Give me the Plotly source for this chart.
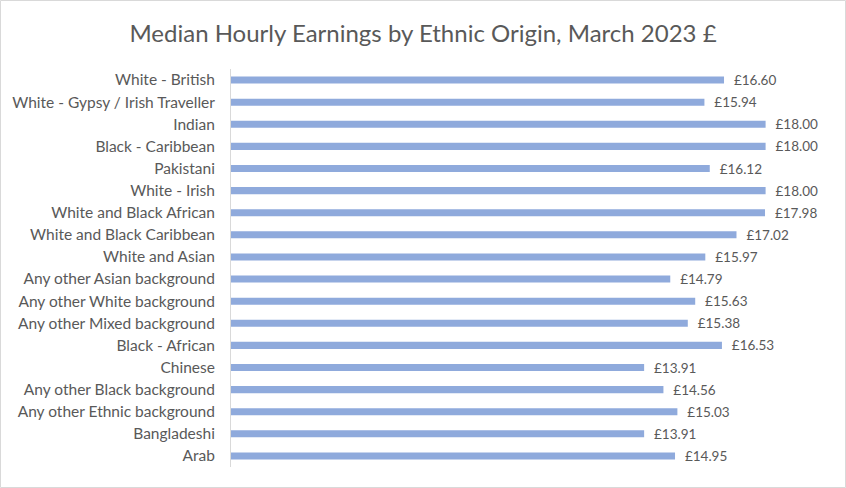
import plotly.graph_objects as go

categories = [
    "White - British", "White - Gypsy / Irish Traveller", "Indian", "Black - Caribbean",
    "Pakistani", "White - Irish", "White and Black African", "White and Black Caribbean",
    "White and Asian", "Any other Asian background", "Any other White background",
    "Any other Mixed background", "Black - African", "Chinese", "Any other Black background",
    "Any other Ethnic background", "Bangladeshi", "Arab",
]
earnings = [16.60, 15.94, 18.00, 18.00, 16.12, 18.00, 17.98, 17.02, 15.97, 14.79,
            15.63, 15.38, 16.53, 13.91, 14.56, 15.03, 13.91, 14.95]
labels = ["£%.2f" % v for v in earnings]

FONT = "Lato"
GREY = "#595959"

fig = go.Figure(go.Bar(
    x=earnings, y=categories, orientation="h",
    marker=dict(color="#8FAADC", line=dict(width=0)),
    width=0.32,
    text=["  " + t for t in labels], textposition="outside",
    textfont=dict(family=FONT, size=13.5, color=GREY),
    cliponaxis=False, constraintext="none",
    hoverinfo="skip",
))

fig.update_layout(
    width=846, height=488,
    margin=dict(l=231, r=21, t=69, b=21),
    paper_bgcolor="white", plot_bgcolor="white",
    showlegend=False,
    title=dict(text="Median Hourly Earnings by Ethnic Origin, March 2023 £",
               x=0.5, xanchor="center", y=0.932, yanchor="middle",
               font=dict(family=FONT, size=24, color=GREY)),
    xaxis=dict(range=[0, 20], visible=False, showgrid=False, zeroline=False),
    yaxis=dict(autorange="reversed", showgrid=False, zeroline=False,
               showline=True, linecolor="#D9D9D9", linewidth=1,
               ticks="", ticklabelstandoff=12,
               tickfont=dict(family=FONT, size=15.5, color=GREY)),
    shapes=[dict(type="rect", xref="paper", yref="paper",
                 x0=-230.5/594, x1=1 + 20.5/594, y0=-20.5/398, y1=1 + 68.5/398,
                 line=dict(color="#D9D9D9", width=1), layer="below")],
)

fig.write_html("out.html", config={"displayModeBar": False},
               post_script="document.body.style.margin='0';document.body.style.overflow='hidden';")
